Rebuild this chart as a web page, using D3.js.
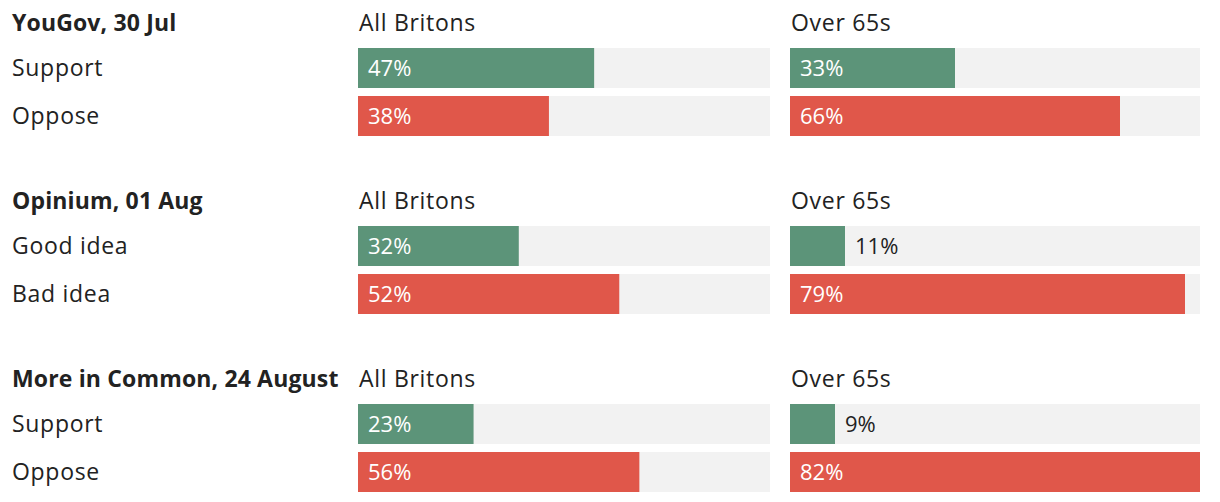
<!DOCTYPE html>
<html>
<head>
<meta charset="utf-8">
<script src="https://cdn.jsdelivr.net/npm/d3@7"></script>
<style>
  html, body { margin: 0; padding: 0; background: #fff; }
  svg text { font-family: "Open Sans", Lato, sans-serif; }
</style>
</head>
<body>
<svg id="chart" width="1220" height="502"></svg>
<script>
const pollTitles = ["YouGov, 30 Jul", "Opinium, 01 Aug", "More in Common, 24 August"];
const answerLabels = [["Support", "Oppose"], ["Good idea", "Bad idea"], ["Support", "Oppose"]];
const allBritons = [[47, 38], [32, 52], [23, 56]];
const over65s = [[33, 66], [11, 79], [9, 82]];
const panelTitles = ["All Britons", "Over 65s"];
const colors = ["#5c9479", "#e0574a"];

const svg = d3.select("#chart");
const maxVal = d3.max([...allBritons.flat(), ...over65s.flat()]);
const panels = [
  { title: panelTitles[0], data: allBritons, x: d3.scaleLinear().domain([0, maxVal]).range([358, 770]) },
  { title: panelTitles[1], data: over65s, x: d3.scaleLinear().domain([0, maxVal]).range([790, 1200]) }
];

const groupStep = 178, rowStep = 48, barH = 40, firstBar = 48;

pollTitles.forEach((title, gi) => {
  const g = svg.append("g").attr("transform", `translate(0,${gi * groupStep})`);
  g.append("text").attr("x", 12).attr("y", 31)
    .attr("font-size", 23).attr("font-weight", 700).attr("fill", "#222")
    .attr("letter-spacing", 0.15)
    .text(title);
  answerLabels[gi].forEach((lab, ri) => {
    g.append("text").attr("x", 12).attr("y", firstBar + ri * rowStep + barH / 2 + 8)
      .attr("font-size", 23).attr("letter-spacing", 0.7).attr("fill", "#222").text(lab);
  });
  panels.forEach(p => {
    const x = p.x;
    g.append("text").attr("x", x.range()[0] + 1).attr("y", 31)
      .attr("font-size", 23).attr("letter-spacing", 0.7).attr("fill", "#222").text(p.title);
    p.data[gi].forEach((v, ri) => {
      const y = firstBar + ri * rowStep;
      g.append("rect").attr("x", x.range()[0]).attr("y", y)
        .attr("width", x.range()[1] - x.range()[0]).attr("height", barH).attr("fill", "#f2f2f2");
      g.append("rect").attr("x", x(0)).attr("y", y)
        .attr("width", x(v) - x(0)).attr("height", barH).attr("fill", colors[ri]);
      const inside = v >= 15;
      g.append("text")
        .attr("x", inside ? x(0) + 10 : x(v) + 10)
        .attr("y", y + barH / 2 + 8)
        .attr("font-size", 22)
        .attr("fill", inside ? "#fff" : "#222")
        .text(v + "%");
    });
  });
});
</script>
</body>
</html>
